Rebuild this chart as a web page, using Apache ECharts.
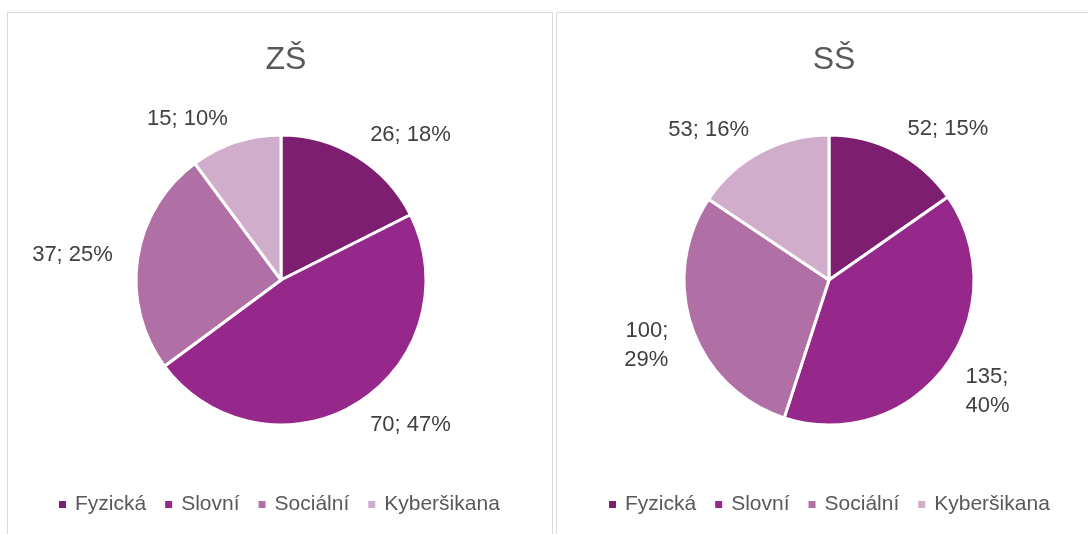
<!DOCTYPE html>
<html>
<head>
<meta charset="utf-8">
<script src="https://cdn.jsdelivr.net/npm/echarts@6/dist/echarts.min.js"></script>
<style>
html,body{margin:0;padding:0;background:#fff;}
#chart{width:1088px;height:534px;}
</style>
</head>
<body>
<div id="chart"></div>
<script>
const categories = ['Fyzická', 'Slovní', 'Sociální', 'Kyberšikana'];
const zsValues = [26, 70, 37, 15];
const ssValues = [52, 135, 100, 53];
const titles = ['ZŠ', 'SŠ'];
const colors = ['#7E1E70', '#95288A', '#B070A6', '#D0ADCA'];
const ssLabelBreak = [false, true, true, false];

const FONT = '"Liberation Sans", Arial, sans-serif';

function buildData(values, breaks) {
  return categories.map((name, i) => {
    const item = { name: name, value: values[i] };
    if (breaks && breaks[i]) {
      item.label = { formatter: '{c};\n{d}%', offset: [0, 10] };
    }
    return item;
  });
}

function pieSeries(values, center, breaks) {
  return {
    type: 'pie',
    center: center,
    radius: 145,
    startAngle: 90,
    clockwise: true,
    percentPrecision: 0,
    avoidLabelOverlap: false,
    animation: false,
    itemStyle: { borderColor: '#ffffff', borderWidth: 3 },
    label: {
      show: true,
      position: 'outside',
      formatter: '{c}; {d}%',
      fontFamily: FONT,
      fontSize: 22,
      lineHeight: 29,
      color: '#404040',
      distanceToLabelLine: 0
    },
    labelLine: { show: false, length: 25, length2: 0 },
    emphasis: { disabled: true },
    data: buildData(values, breaks)
  };
}

function legendAt(left) {
  return {
    data: categories, left: left, top: 489, icon: 'rect', itemWidth: 9, itemHeight: 9, itemGap: 17,
    selectedMode: false,
    textStyle: { fontFamily: FONT, fontSize: 21, color: '#595959', padding: [0, 0, 0, 3] }
  };
}

const chart = echarts.init(document.getElementById('chart'), null, { renderer: 'canvas' });
chart.setOption({
  backgroundColor: '#ffffff',
  color: colors,
  graphic: [
    { type: 'rect', shape: { x: 7.5, y: 12.5, width: 545, height: 540 }, style: { fill: 'none', stroke: '#D9D9D9', lineWidth: 1 }, silent: true },
    { type: 'rect', shape: { x: 556.5, y: 12.5, width: 560, height: 540 }, style: { fill: 'none', stroke: '#D9D9D9', lineWidth: 1 }, silent: true }
  ],
  title: [
    { text: titles[0], left: 281, top: 39, textAlign: 'center', textStyle: { fontFamily: FONT, fontSize: 32, fontWeight: 'normal', color: '#595959' } },
    { text: titles[1], left: 829, top: 39, textAlign: 'center', textStyle: { fontFamily: FONT, fontSize: 32, fontWeight: 'normal', color: '#595959' } }
  ],
  legend: [legendAt(52), legendAt(602)],
  series: [
    pieSeries(zsValues, [281, 280], null),
    pieSeries(ssValues, [829, 280], ssLabelBreak)
  ]
});
</script>
</body>
</html>
